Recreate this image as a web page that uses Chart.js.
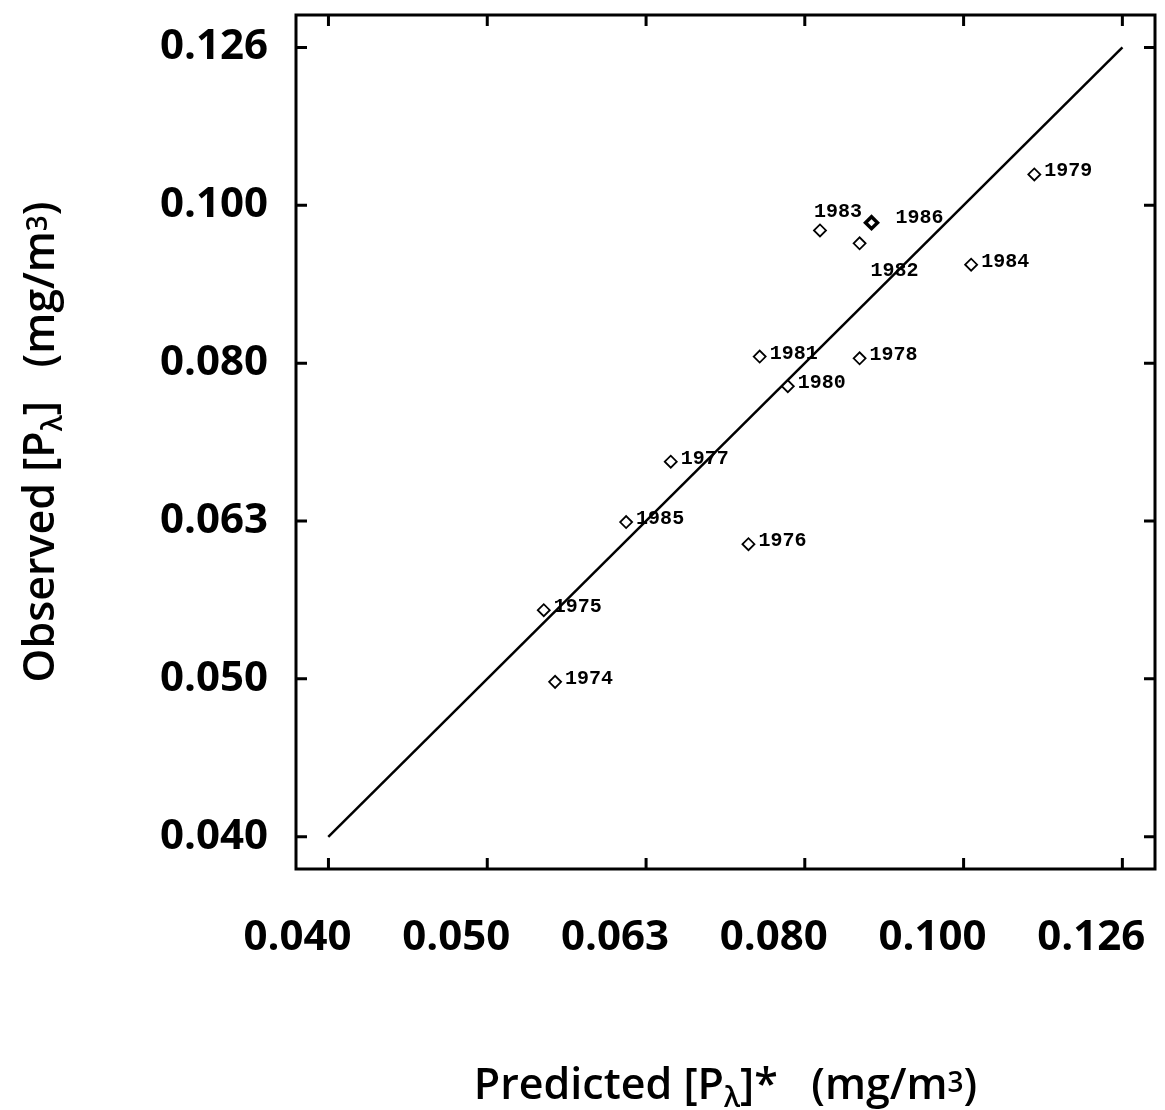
<!DOCTYPE html>
<html>
<head>
<meta charset="utf-8">
<title>Observed vs Predicted</title>
<script src="https://cdn.jsdelivr.net/npm/chart.js@4.4.1/dist/chart.umd.min.js"></script>
<style>
  html, body { margin: 0; padding: 0; background: #fff; }
  canvas { display: block; }
</style>
</head>
<body>
<canvas id="chart" width="1165" height="1110"></canvas>
<script>
// values (mg/m3), log-log axes
const years     = [1974, 1975, 1976, 1977, 1978, 1979, 1980, 1981, 1982, 1983, 1984, 1985, 1986];
const predicted = [0.0553, 0.0544, 0.0732, 0.0654, 0.0860, 0.1108, 0.0775, 0.0744, 0.0860, 0.0812, 0.1011, 0.0613, 0.0875];
const observed  = [0.0499, 0.0554, 0.0610, 0.0688, 0.0800, 0.1046, 0.0768, 0.0802, 0.0946, 0.0964, 0.0917, 0.0630, 0.0975];

// 1:1 line ends
const lineX = [0.0398, 0.1259];
const lineY = [0.0398, 0.1259];

// tick values are 10^-1.4 ... 10^-0.9
const tickValues = [0.03981, 0.05012, 0.06310, 0.07943, 0.1, 0.12589];
const tickLabels = ['0.040', '0.050', '0.063', '0.080', '0.100', '0.126'];
const axisMin = 0.03798;
const axisMax = 0.13199;

// axis titles, split so the lambda can sit as a subscript
const xTitle = [['Predicted [P'], ['\u03BB', 'sub'], [']*   (mg/m'], ['3', 'sup'], [')']];
const yTitle = [['Observed [P'], ['\u03BB', 'sub'], [']   (mg/m'], ['3', 'sup'], [')']];

// where each year label sits relative to its marker
const labelOffset = {
  1983: [-6, -18],
  1986: [24, -5],
  1982: [11, 28]
};

const TITLE_FONT = '600 43px "Open Sans", sans-serif';
const SMALL_FONT = '600 28px "Open Sans", sans-serif';

const setTicks = scale => { scale.ticks = tickValues.map(v => ({ value: v })); };

function drawTitle(ctx, parts, cx, cy) {
  // measure first so the whole string is centred
  let w = 0;
  parts.forEach(([t, k]) => { ctx.font = k ? SMALL_FONT : TITLE_FONT; w += ctx.measureText(t).width; });
  let x = cx - w / 2;
  parts.forEach(([t, k]) => {
    ctx.font = k ? SMALL_FONT : TITLE_FONT;
    const dy = k === 'sub' ? 8 : k === 'sup' ? -7 : 0;
    ctx.fillText(t, x, cy + dy);
    x += ctx.measureText(t).width;
  });
}

const framePlugin = {
  id: 'frame',
  afterDatasetsDraw(chart) {
    const { ctx, chartArea: a, scales } = chart;
    ctx.save();
    ctx.strokeStyle = '#000';
    ctx.lineWidth = 3;
    ctx.strokeRect(a.left, a.top, a.right - a.left, a.bottom - a.top);
    const len = 11;
    ctx.beginPath();
    tickValues.forEach(v => {
      const px = scales.x.getPixelForValue(v);
      ctx.moveTo(px, a.bottom); ctx.lineTo(px, a.bottom - len);
      ctx.moveTo(px, a.top); ctx.lineTo(px, a.top + len);
      const py = scales.y.getPixelForValue(v);
      ctx.moveTo(a.left, py); ctx.lineTo(a.left + len, py);
      ctx.moveTo(a.right, py); ctx.lineTo(a.right - len, py);
    });
    ctx.stroke();

    // axis titles
    ctx.fillStyle = '#000';
    ctx.textBaseline = 'alphabetic';
    ctx.textAlign = 'left';
    drawTitle(ctx, xTitle, (a.left + a.right) / 2, 1099);
    ctx.translate(54, (a.top + a.bottom) / 2);
    ctx.rotate(-Math.PI / 2);
    drawTitle(ctx, yTitle, 0, 0);
    ctx.restore();
  }
};

const yearLabels = {
  id: 'yearLabels',
  afterDatasetsDraw(chart) {
    const { ctx } = chart;
    const meta = chart.getDatasetMeta(0);
    ctx.save();
    ctx.fillStyle = '#000';
    ctx.font = 'bold 20px "Liberation Mono", monospace';
    ctx.textBaseline = 'middle';
    ctx.textAlign = 'left';
    meta.data.forEach((pt, i) => {
      const off = labelOffset[years[i]] || [10, -3];
      ctx.fillText(String(years[i]), pt.x + off[0], pt.y + off[1]);
    });
    ctx.restore();
  }
};

new Chart(document.getElementById('chart'), {
  type: 'scatter',
  data: {
    datasets: [
      {
        label: 'Years',
        data: years.map((y, i) => ({ x: predicted[i], y: observed[i] })),
        pointStyle: 'rectRot',
        pointRadius: 6,
        pointBackgroundColor: '#fff',
        pointBorderColor: '#000',
        pointBorderWidth: ctx => years[ctx.dataIndex] === 1986 ? 3.5 : 1.8
      },
      {
        label: '1:1',
        type: 'line',
        data: lineX.map((x, i) => ({ x, y: lineY[i] })),
        borderColor: '#000',
        borderWidth: 2.5,
        pointRadius: 0,
        fill: false
      }
    ]
  },
  options: {
    responsive: false,
    animation: false,
    devicePixelRatio: 1,
    layout: { padding: { top: 15, right: 10, left: 0, bottom: 0 } },
    plugins: {
      legend: { display: false },
      tooltip: { enabled: false }
    },
    scales: {
      x: {
        type: 'logarithmic',
        min: axisMin,
        max: axisMax,
        afterBuildTicks: setTicks,
        afterFit: s => { s.height = 241; s.paddingLeft = 0; s.paddingRight = 0; },
        grid: { display: false },
        border: { display: false },
        ticks: {
          autoSkip: false,
          maxRotation: 0,
          padding: 36,
          labelOffset: -31,
          color: '#000',
          font: { family: '"Open Sans", sans-serif', size: 42, weight: 'bold' },
          callback: (v, i) => tickLabels[i]
        }
      },
      y: {
        type: 'logarithmic',
        min: axisMin,
        max: axisMax,
        afterBuildTicks: setTicks,
        afterFit: s => { s.width = 296; s.paddingTop = 0; s.paddingBottom = 0; },
        grid: { display: false },
        border: { display: false },
        ticks: {
          autoSkip: false,
          padding: 20,
          color: '#000',
          font: { family: '"Open Sans", sans-serif', size: 42, weight: 'bold' },
          callback: (v, i) => tickLabels[i]
        }
      }
    }
  },
  plugins: [framePlugin, yearLabels]
});
</script>
</body>
</html>
